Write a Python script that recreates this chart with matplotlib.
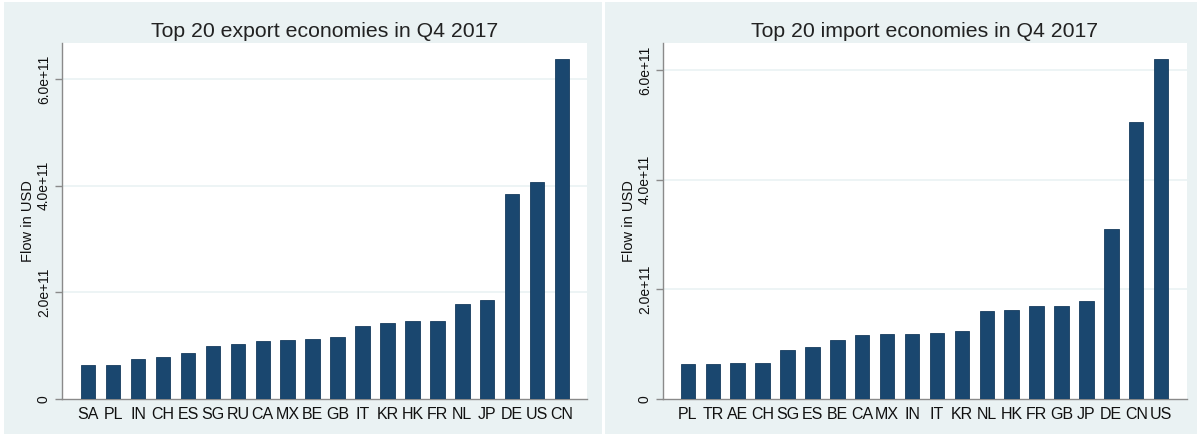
import numpy as np
import matplotlib
matplotlib.use("Agg")
import matplotlib.pyplot as plt
from matplotlib.patches import Rectangle
from matplotlib.ticker import FixedLocator

plt.rcParams['font.family'] = ['Liberation Sans', 'DejaVu Sans']

# values in USD (in units of 1e11)
exp_codes = ['SA', 'PL', 'IN', 'CH', 'ES', 'SG', 'RU', 'CA', 'MX', 'BE',
             'GB', 'IT', 'KR', 'HK', 'FR', 'NL', 'JP', 'DE', 'US', 'CN']
exp_vals = [0.633, 0.633, 0.75, 0.795, 0.858, 0.99, 1.027, 1.083, 1.10, 1.134,
            1.17, 1.378, 1.434, 1.459, 1.472, 1.779, 1.854, 3.84, 4.077, 6.376]

imp_codes = ['PL', 'TR', 'AE', 'CH', 'SG', 'ES', 'BE', 'CA', 'MX', 'IN',
             'IT', 'KR', 'NL', 'HK', 'FR', 'GB', 'JP', 'DE', 'CN', 'US']
imp_vals = [0.644, 0.644, 0.657, 0.663, 0.894, 0.948, 1.076, 1.173, 1.191, 1.191,
            1.21, 1.234, 1.599, 1.617, 1.69, 1.69, 1.787, 3.10, 5.058, 6.195]

navy = '#1a476f'
panel_bg = '#eaf2f3'
grid_c = '#eaf2f3'

W, H = 1201, 438
fig = plt.figure(figsize=(W / 100, H / 100), dpi=100)
fig.patch.set_facecolor('white')

# panel backgrounds (pixel coords -> figure fractions)
def panel(x0, y0, x1, y1):
    fig.patches.append(Rectangle((x0 / W, 1 - y1 / H), (x1 - x0) / W, (y1 - y0) / H,
                                 transform=fig.transFigure, facecolor=panel_bg,
                                 edgecolor='none', zorder=-10))

panel(4, 2, 602, 434)
panel(605, 2, 1197, 434)


def draw(px0, px1, codes, vals, title, ytop, xl):
    ax = fig.add_axes([px0 / W, 1 - 399 / H, (px1 - px0) / W, (399 - 43) / H])
    ax.set_zorder(1)
    ax.set_facecolor('white')
    x = np.arange(len(codes))
    v = np.array(vals) * 1e11
    ax.bar(x, v, width=0.58, color=navy, edgecolor='#163c5e', linewidth=0.6, zorder=3)
    ax.set_xlim(*xl)
    ax.set_ylim(0, ytop * 1e11)
    ax.set_xticks(x)
    ax.set_xticklabels(codes, fontsize=11.5)
    ax.tick_params(axis='x', length=0, pad=6, colors='#111111')
    ticks = [0, 2e11, 4e11, 6e11]
    ax.yaxis.set_major_locator(FixedLocator(ticks))
    ax.set_yticklabels(['0', '2.0e+11', '4.0e+11', '6.0e+11'], rotation=90,
                       va='center', fontsize=10)
    ax.tick_params(axis='y', length=5, width=1, color='#8a8a8a', pad=3, labelcolor='#111111')
    for t in ticks[1:]:
        ax.axhline(t, color=grid_c, linewidth=1.2, zorder=1)
    for s in ['top', 'right']:
        ax.spines[s].set_visible(False)
    for s in ['left', 'bottom']:
        ax.spines[s].set_color('#8a8a8a')
        ax.spines[s].set_linewidth(1)
    ax.set_ylabel('Flow in USD', fontsize=10.5, color='#111111')
    ax.yaxis.set_label_coords(-27 / (px1 - px0), 0.5)
    ax.set_title(title, fontsize=15.3, pad=4, color='#222222')
    return ax


draw(62, 587, exp_codes, exp_vals, 'Top 20 export economies in Q4 2017', 6.68, (-1.05, 20.0))
draw(663, 1187, imp_codes, imp_vals, 'Top 20 import economies in Q4 2017', 6.49, (-1.0, 20.04))

fig.savefig('out.png', dpi=100, facecolor='white')
